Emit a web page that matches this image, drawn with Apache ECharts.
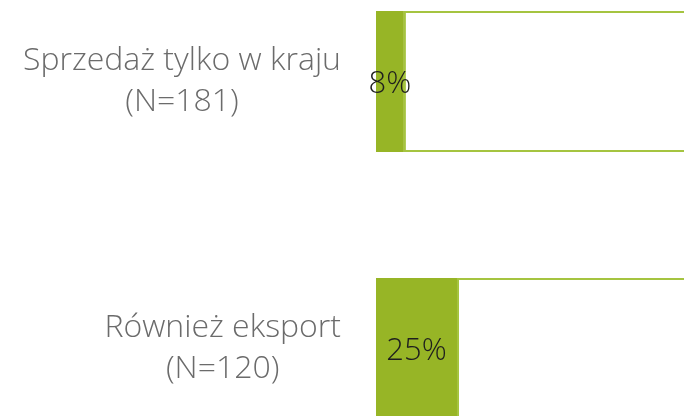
<!DOCTYPE html>
<html>
<head>
<meta charset="utf-8">
<script src="https://cdn.jsdelivr.net/npm/echarts@6/dist/echarts.min.js"></script>
<style>
  html, body { margin: 0; padding: 0; background: #fff; }
  #chart { width: 684px; height: 416px; }
</style>
</head>
<body>
<div id="chart"></div>
<script>
  const categories = ['Sprzedaż tylko w kraju', 'Również eksport'];
  const sampleSizes = ['(N=181)', '(N=120)'];
  const shares = [8.6, 25];
  const shareLabels = ['8%', '25%'];
  const rest = shares.map((v) => 100 - v);

  const chart = echarts.init(document.getElementById('chart'));
  chart.setOption({
    animation: false,
    grid: {
      left: 376,
      right: -16,
      top: -52,
      bottom: -66,
      containLabel: false,
      outerBoundsMode: 'none'
    },
    xAxis: {
      type: 'value',
      min: 0,
      max: 100,
      show: false
    },
    yAxis: {
      type: 'category',
      inverse: true,
      data: categories,
      axisLine: { show: false },
      axisTick: { show: false },
      axisLabel: {
        margin: 35,
        align: 'right',
        formatter: function (value, index) {
          return '{c|' + value + '}\n{c|' + sampleSizes[index] + '}';
        },
        rich: {
          c: {
            align: 'center',
            fontFamily: 'Open Sans',
            fontWeight: 300,
            fontSize: 32,
            lineHeight: 41,
            color: '#6b6b6b'
          }
        }
      }
    },
    series: [
      {
        type: 'bar',
        stack: 'total',
        barWidth: 141,
        data: shares,
        itemStyle: { color: '#97b526' },
        label: {
          show: true,
          position: 'inside',
          offset: [0, 3],
          formatter: (p) => shareLabels[p.dataIndex],
          fontFamily: 'Open Sans',
          fontWeight: 300,
          fontSize: 31,
          color: '#1e1e1e'
        }
      },
      {
        type: 'bar',
        stack: 'total',
        barWidth: 141,
        data: rest,
        itemStyle: { color: '#ffffff', borderColor: '#a5c440', borderWidth: 2 },
        silent: true
      }
    ]
  });
</script>
</body>
</html>
